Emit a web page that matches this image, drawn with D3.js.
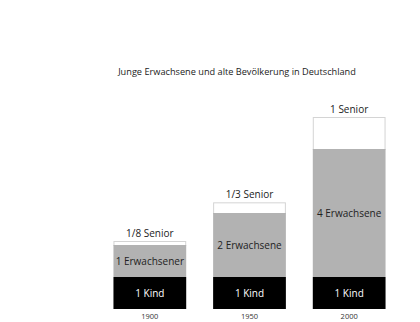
<!DOCTYPE html>
<html>
<head>
<meta charset="utf-8">
<script src="https://cdn.jsdelivr.net/npm/d3@7"></script>
<style>
  body { margin: 0; background: #fff; }
  text { font-family: "Open Sans", "Noto Sans", sans-serif; }
</style>
</head>
<body>
<script>
// Junge Erwachsene und alte Bevoelkerung
var years = ["1900", "1950", "2000"];
var kinder = [1, 1, 1];
var erwachsene = [1, 2, 4];
var senioren = [1 / 8, 1 / 3, 1];
var kindLabels = ["1 Kind", "1 Kind", "1 Kind"];
var erwLabels = ["1 Erwachsener", "2 Erwachsene", "4 Erwachsene"];
var senLabels = ["1/8 Senior", "1/3 Senior", "1 Senior"];

var width = 420, height = 322;
var svg = d3.select("body").append("svg")
    .attr("width", width)
    .attr("height", height);

var x = d3.scaleBand()
    .domain(years)
    .range([100, 399])
    .paddingInner(0.27)
    .paddingOuter(0.135);

var y = d3.scaleLinear()
    .domain([0, 6])
    .range([309, 117]);

var rows = years.map(function (yr, i) {
  return { year: yr, kind: kinder[i], erw: erwachsene[i], sen: senioren[i],
           kl: kindLabels[i], el: erwLabels[i], sl: senLabels[i] };
});

svg.append("text")
    .attr("x", 237)
    .attr("y", 75)
    .attr("text-anchor", "middle")
    .attr("font-size", 9.2)
    .attr("fill", "#222")
    .text("Junge Erwachsene und alte Bevölkerung in Deutschland");

var bars = svg.selectAll("g.bar")
    .data(rows)
  .enter().append("g")
    .attr("class", "bar")
    .attr("transform", function (d) { return "translate(" + x(d.year) + ",0)"; });

// senior (white box with light border)
bars.append("rect")
    .attr("x", 0.5)
    .attr("width", x.bandwidth() - 1)
    .attr("y", function (d) { return y(d.kind + d.erw + d.sen) + 0.5; })
    .attr("height", function (d) { return y(d.kind + d.erw) - y(d.kind + d.erw + d.sen); })
    .attr("fill", "#fff")
    .attr("stroke", "#d4d4d4")
    .attr("stroke-width", 1);

// erwachsene
bars.append("rect")
    .attr("width", x.bandwidth())
    .attr("y", function (d) { return y(d.kind + d.erw); })
    .attr("height", function (d) { return y(d.kind) - y(d.kind + d.erw); })
    .attr("fill", "#b2b2b2");

// kinder
bars.append("rect")
    .attr("width", x.bandwidth())
    .attr("y", function (d) { return y(d.kind); })
    .attr("height", function (d) { return y(0) - y(d.kind); })
    .attr("fill", "#000");

bars.append("text")
    .attr("x", x.bandwidth() / 2)
    .attr("y", function (d) { return (y(0) + y(d.kind)) / 2 + 3.5; })
    .attr("text-anchor", "middle")
    .attr("font-size", 10)
    .attr("fill", "#fff")
    .text(function (d) { return d.kl; });

bars.append("text")
    .attr("x", x.bandwidth() / 2)
    .attr("y", function (d) { return (y(d.kind) + y(d.kind + d.erw)) / 2 + 3.5; })
    .attr("text-anchor", "middle")
    .attr("font-size", 10)
    .attr("fill", "#222")
    .text(function (d) { return d.el; });

bars.append("text")
    .attr("x", x.bandwidth() / 2)
    .attr("y", function (d) { return y(d.kind + d.erw + d.sen) - 4; })
    .attr("text-anchor", "middle")
    .attr("font-size", 10)
    .attr("fill", "#222")
    .text(function (d) { return d.sl; });

// year axis, no line
var xAxis = svg.append("g")
    .attr("transform", "translate(0," + y(0) + ")")
    .call(d3.axisBottom(x).tickSize(0).tickPadding(5));
xAxis.select(".domain").remove();
xAxis.selectAll("text")
    .attr("font-size", 7.5)
    .attr("font-family", "\"Open Sans\", sans-serif")
    .attr("fill", "#333");
</script>
</body>
</html>
